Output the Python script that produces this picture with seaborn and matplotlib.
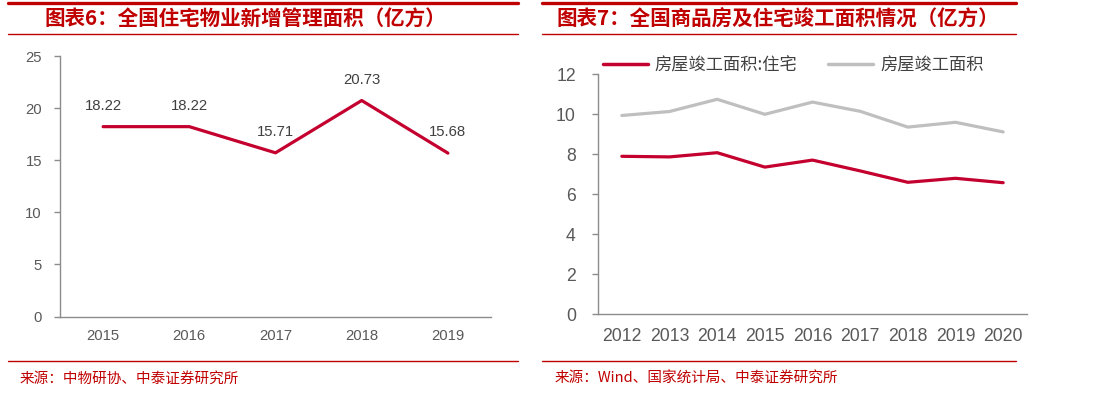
import numpy as np
import pandas as pd
import matplotlib
matplotlib.use("Agg")
import matplotlib.pyplot as plt
from matplotlib.lines import Line2D
import seaborn as sns

# data
years_l = ["2015", "2016", "2017", "2018", "2019"]
mgmt_area = [18.22, 18.22, 15.71, 20.73, 15.68]

years_r = ["2012", "2013", "2014", "2015", "2016", "2017", "2018", "2019", "2020"]
resi_done = [7.90, 7.87, 8.08, 7.36, 7.71, 7.17, 6.60, 6.80, 6.58]
total_done = [9.94, 10.14, 10.75, 10.00, 10.61, 10.15, 9.36, 9.60, 9.12]
series_names = ["房屋竣工面积:住宅", "房屋竣工面积"]

sns.set_theme(style="white")
plt.rcParams["font.family"] = ["Liberation Sans", "Noto Sans CJK SC", "DejaVu Sans"]

RED = "#C4002F"
GRAY = "#BFBFBF"
TITLE_RED = "#C00000"
TXT = "#595959"
SPINE = "#8C8C8C"
CJK = ["Noto Sans CJK SC", "DejaVu Sans"]

fig = plt.figure(figsize=(11.12, 3.98), dpi=100)


def style_axis(ax, n, labels, fs, xpad, ypad):
    sns.despine(ax=ax)
    for s in ["left", "bottom"]:
        ax.spines[s].set_color(SPINE)
        ax.spines[s].set_linewidth(1.0)
    ax.set_xlim(-0.5, n - 0.5)
    ax.set_xticks(np.arange(n + 1) - 0.5)
    ax.set_xticklabels([])
    ax.set_xticks(np.arange(n), minor=True)
    ax.set_xticklabels(labels, minor=True)
    ax.tick_params(axis="x", which="major", length=4, color=SPINE, width=1, direction="out")
    ax.tick_params(axis="x", which="minor", length=0, pad=xpad, labelsize=fs, labelcolor=TXT)
    ax.tick_params(axis="y", length=4, color=SPINE, width=1, pad=ypad, labelsize=fs,
                   labelcolor=TXT, left=True)
    ax.set_xlabel("")
    ax.set_ylabel("")
    ax.grid(False)


# left chart
ax1 = fig.add_axes([60 / 1112, 1 - 316.5 / 398, 431 / 1112, 260.5 / 398])
x_l = np.arange(len(years_l))
sns.lineplot(x=x_l, y=mgmt_area, ax=ax1, color=RED, linewidth=2.3)
ax1.set_ylim(0, 25)
ax1.set_yticks(range(0, 26, 5))
style_axis(ax1, len(years_l), years_l, 10.7, 9, 9)
for xi, v in zip(x_l, mgmt_area):
    ax1.annotate(f"{v:.2f}", (xi, v), xytext=(0, 15), textcoords="offset points",
                 ha="center", va="center", fontsize=10.7, color="#404040")

# right chart
ax2 = fig.add_axes([598 / 1112, 1 - 314.3 / 398, 429 / 1112, 240 / 398])
x_r = np.arange(len(years_r))
df = pd.DataFrame({
    "x": np.concatenate([x_r, x_r]),
    "v": resi_done + total_done,
    "s": [series_names[0]] * len(years_r) + [series_names[1]] * len(years_r),
})
sns.lineplot(data=df, x="x", y="v", hue="s", palette=[RED, GRAY], linewidth=2.3, ax=ax2)
ax2.set_ylim(0, 12)
ax2.set_yticks(range(0, 13, 2))
style_axis(ax2, len(years_r), years_r, 12.7, 10, 12)
leg = ax2.legend(loc="center left", bbox_to_anchor=(603 / 1112, 1 - 65 / 398),
                 bbox_transform=fig.transFigure, ncol=2, frameon=False,
                 handlelength=2.6, handletextpad=0.4, columnspacing=1.8,
                 borderpad=0, borderaxespad=0,
                 prop={"family": CJK, "size": 12.4})
for t in leg.get_texts():
    t.set_color("#404040")
for h in leg.get_lines():
    h.set_linewidth(2.5)

# header / footer decorations
for x0, x1 in [(8, 518), (542, 1016)]:
    fig.add_artist(Line2D([x0 / 1112, x1 / 1112], [1 - 2.5 / 398] * 2,
                          transform=fig.transFigure, color=TITLE_RED, linewidth=2.4))
    fig.add_artist(Line2D([x0 / 1112, x1 / 1112], [1 - 34.3 / 398] * 2,
                          transform=fig.transFigure, color=TITLE_RED, linewidth=1.0))
    fig.add_artist(Line2D([x0 / 1112, x1 / 1112], [1 - 361 / 398] * 2,
                          transform=fig.transFigure, color=TITLE_RED, linewidth=1.0))

fig.text(45 / 1112, 1 - 19.5 / 398, "图表6：全国住宅物业新增管理面积（亿方）", family=CJK,
         fontsize=14.8, fontweight="bold", color=TITLE_RED, ha="left", va="center")
fig.text(556 / 1112, 1 - 19.5 / 398, "图表7：全国商品房及住宅竣工面积情况（亿方）", family=CJK,
         fontsize=14.8, fontweight="bold", color=TITLE_RED, ha="left", va="center")
fig.text(20 / 1112, 1 - 379 / 398, "来源：中物研协、中泰证券研究所", family=CJK,
         fontsize=10.5, color=TITLE_RED, ha="left", va="center")
fig.text(555 / 1112, 1 - 379 / 398, "来源：Wind、国家统计局、中泰证券研究所", family=CJK,
         fontsize=10.5, color=TITLE_RED, ha="left", va="center")

fig.savefig("out.png", dpi=100)
